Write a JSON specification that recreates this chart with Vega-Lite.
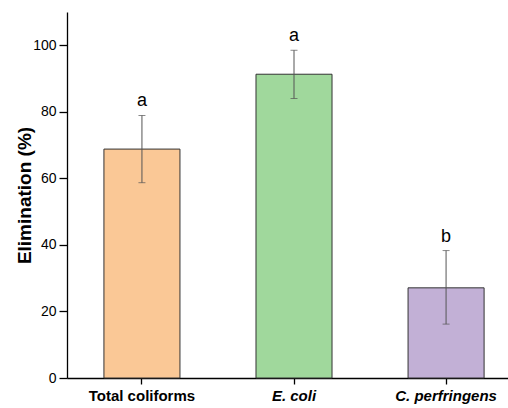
{
  "$schema": "https://vega.github.io/schema/vega-lite/v6.json",
  "autosize": "none",
  "width": 441,
  "height": 366,
  "padding": {"left": 67, "top": 12, "right": 0, "bottom": 30},
  "background": "white",
  "config": {"view": {"stroke": null}, "font": "Liberation Sans"},
  "data": {"values": [
    {"group": "Total coliforms", "value": 68.8, "low": 58.7, "high": 78.9, "letter": "a"},
    {"group": "E. coli", "value": 91.3, "low": 84.0, "high": 98.5, "letter": "a"},
    {"group": "C. perfringens", "value": 27.1, "low": 16.2, "high": 38.3, "letter": "b"}
  ]},
  "encoding": {
    "x": {"field": "group", "type": "nominal", "sort": null,
      "scale": {"paddingInner": 0.5, "paddingOuter": 0.2, "align": 0.607},
      "axis": {"title": null, "labelAngle": 0, "domainColor": "black", "domainWidth": 1.3, "tickColor": "black", "tickWidth": 1.3, "tickSize": 6, "labelPadding": 4, "labelFontSize": 15, "labelFontWeight": "bold", "labelColor": "black",
        "labelFontStyle": {"condition": {"test": "datum.label != 'Total coliforms'", "value": "italic"}, "value": "normal"}}
    }
  },
  "layer": [
    {
      "mark": {"type": "bar", "stroke": "#333333", "strokeWidth": 1},
      "encoding": {
        "y": {"field": "value", "type": "quantitative", "title": "Elimination (%)",
          "scale": {"domain": [0, 110], "nice": false},
          "axis": {"title": "Elimination (%)", "titleFontSize": 19, "titleFontWeight": "bold", "titleColor": "black", "titlePadding": -2,
            "values": [0, 10, 20, 30, 40, 50, 60, 70, 80, 90, 100, 110],
            "labelExpr": "datum.value % 20 == 0 && datum.value <= 100 ? datum.label : ''",
            "grid": false, "domainColor": "black", "domainWidth": 1.3, "tickColor": "black", "tickWidth": 1.3,
            "tickSize": {"condition": {"test": "datum.value % 20 != 0", "value": 4}, "value": 8},
            "labelPadding": 3, "labelFontSize": 14, "labelColor": "black"}
        },
        "color": {"field": "group", "type": "nominal", "sort": null, "legend": null,
          "scale": {"domain": ["Total coliforms", "E. coli", "C. perfringens"], "range": ["#FAC896", "#A0D89C", "#C2B0D6"]}}
      }
    },
    {
      "mark": {"type": "errorbar", "ticks": {"size": 7, "color": "#555555", "strokeWidth": 1}, "rule": {"color": "#555555", "strokeWidth": 1}},
      "encoding": {
        "y": {"field": "low", "type": "quantitative", "title": "Elimination (%)"},
        "y2": {"field": "high"}
      }
    },
    {
      "mark": {"type": "text", "baseline": "bottom", "dy": -5, "fontSize": 18, "color": "black"},
      "encoding": {
        "y": {"field": "high", "type": "quantitative", "title": "Elimination (%)"},
        "text": {"field": "letter"}
      }
    }
  ]
}
